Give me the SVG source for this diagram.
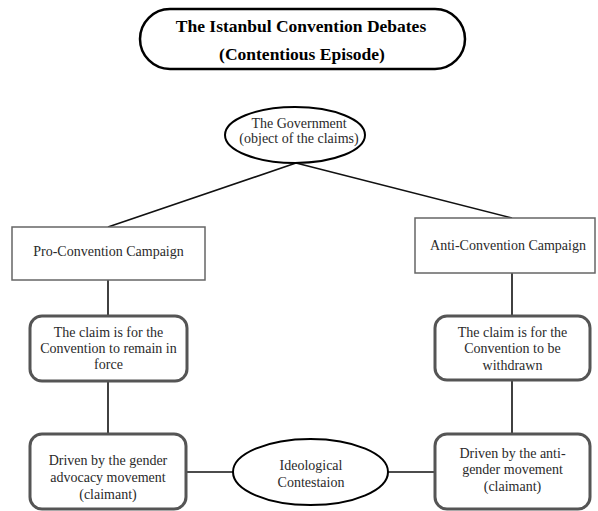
<svg xmlns="http://www.w3.org/2000/svg" width="598" height="511" viewBox="0 0 598 511">
<style>
  text { font-family: "Liberation Serif", "Times New Roman", serif; font-size: 14px; fill: #2a2a2a; text-anchor: middle; }
  .title { font-weight: bold; font-size: 17.5px; fill: #000; }
  .sq { fill: #fff; stroke: #666; stroke-width: 1.5; }
  .rnd { fill: #fff; stroke: #555; stroke-width: 3; }
  .ell { fill: #fff; stroke: #000; stroke-width: 2; }
  .conn line { stroke: #111; stroke-width: 1.6; }
</style>
<rect width="598" height="511" fill="#fff"/>
<g class="conn" id="connectors">
  <line x1="296" y1="163" x2="108" y2="227"/>
  <line x1="296" y1="163" x2="512" y2="218"/>
  <line x1="108" y1="280" x2="108" y2="316"/>
  <line x1="108" y1="381" x2="108" y2="434"/>
  <line x1="512" y1="273" x2="512" y2="316"/>
  <line x1="512" y1="380" x2="512" y2="434"/>
  <line x1="186" y1="472" x2="233" y2="472"/>
  <line x1="388" y1="472" x2="435" y2="472"/>
</g>
<g id="title">
  <rect x="140" y="9" width="325" height="60" rx="30" ry="30" fill="#fff" stroke="#000" stroke-width="2.5"/>
  <text class="title" x="301" y="32">The Istanbul Convention Debates</text>
  <text class="title" x="302" y="60">(Contentious Episode)</text>
</g>
<g id="government">
  <ellipse class="ell" cx="295" cy="135" rx="70" ry="28"/>
  <text x="299" y="128">The Government</text>
  <text x="299" y="143">(object of the claims)</text>
</g>
<g id="pro-campaign">
  <rect class="sq" x="12" y="227" width="193" height="53"/>
  <text x="108.5" y="256">Pro-Convention Campaign</text>
</g>
<g id="anti-campaign">
  <rect class="sq" x="415" y="218" width="180" height="55"/>
  <text x="508" y="250">Anti-Convention Campaign</text>
</g>
<g id="pro-claim">
  <rect class="rnd" x="30" y="316" width="157" height="65" rx="12" ry="12"/>
  <text x="108.5" y="337">The claim is for the</text>
  <text x="108.5" y="353">Convention to remain in</text>
  <text x="108.5" y="369">force</text>
</g>
<g id="anti-claim">
  <rect class="rnd" x="435" y="316" width="155" height="64" rx="12" ry="12"/>
  <text x="512.5" y="337">The claim is for the</text>
  <text x="512.5" y="353">Convention to be</text>
  <text x="512.5" y="370">withdrawn</text>
</g>
<g id="pro-driven">
  <rect class="rnd" x="30" y="434" width="156" height="75" rx="12" ry="12"/>
  <text x="108" y="465">Driven by the gender</text>
  <text x="108" y="482">advocacy movement</text>
  <text x="108" y="499">(claimant)</text>
</g>
<g id="ideological">
  <ellipse class="ell" cx="310.5" cy="472" rx="77.5" ry="33" stroke-width="2.5"/>
  <text x="311" y="470">Ideological</text>
  <text x="311" y="487">Contestaion</text>
</g>
<g id="anti-driven">
  <rect class="rnd" x="435" y="434" width="155" height="75" rx="12" ry="12"/>
  <text x="512.5" y="458">Driven by the anti-</text>
  <text x="512.5" y="474">gender movement</text>
  <text x="512.5" y="491">(claimant)</text>
</g>
</svg>
